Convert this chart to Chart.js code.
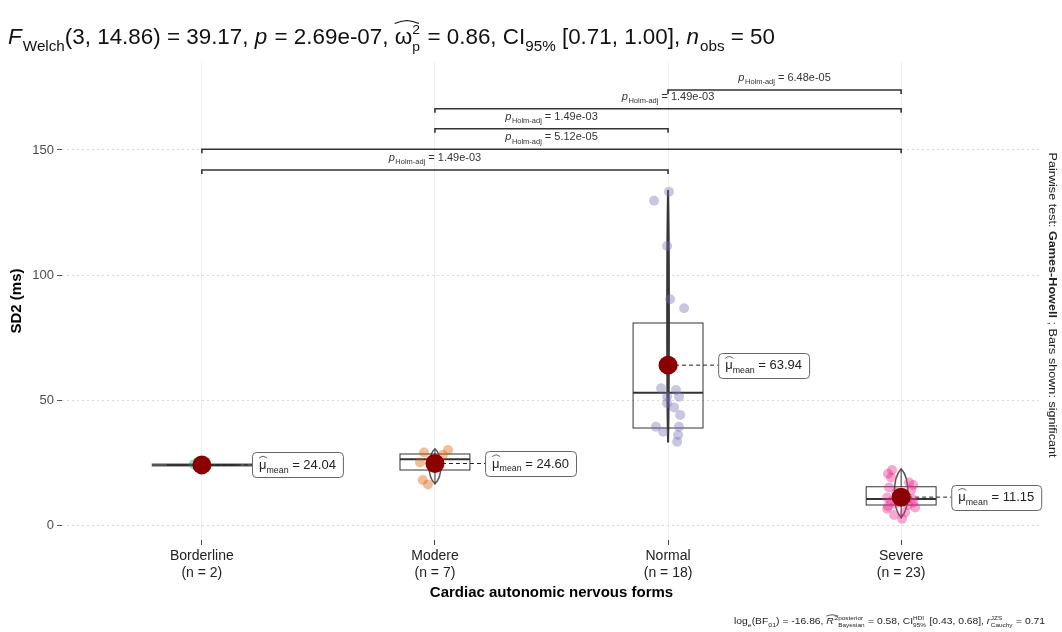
<!DOCTYPE html>
<html><head><meta charset="utf-8">
<script src="https://cdn.jsdelivr.net/npm/chart.js@4.4.1/dist/chart.umd.min.js"></script>
<style>html,body{margin:0;padding:0;background:#fff;}#wrap{width:1062px;height:632px;}</style>
</head><body><div id="wrap"><canvas id="c" width="1062" height="632"></canvas></div>
<script>
// ---------- data ----------
const categories = ['Borderline', 'Modere', 'Normal', 'Severe'];
const groupSizes = [2, 7, 18, 23];
const yTicks = [0, 50, 100, 150];

const borderlineSD2 = [24.30, 23.78];
const modereSD2 = [30.0, 29.0, 28.0, 26.0, 25.0, 18.0, 16.2];
const normalSD2 = [133.3, 129.7, 111.6, 90.3, 86.7, 63.1, 54.7, 54.0, 51.3, 51.3, 48.7, 47.0, 44.0, 39.3, 37.3, 39.3, 36.0, 33.3];
const severeSD2 = [22, 20.5, 19, 17, 16, 15, 14, 13, 10.75, 11, 10.5, 10.2, 10, 9.5, 9, 8.5, 8, 7.5, 7, 6.5, 5, 4, 2.5];

// horizontal jitter of each point (category units)
const borderlineJitter = [-0.035, 0.02];
const modereJitter = [0.056, -0.047, 0.034, -0.017, -0.064, -0.052, -0.03];
const normalJitter = [0.004, -0.06, -0.004, 0.009, 0.069, 0.021, -0.03, 0.034, 0.047, -0.004, -0.004, 0.026, 0.052, -0.052, -0.021, 0.047, 0.043, 0.039];
const severeJitter = [-0.039, -0.056, -0.043, 0.034, 0.052, -0.052, 0.043, -0.021, 0.026, -0.06, 0.047, -0.013, 0.013, -0.043, 0.052, -0.026, 0.03, -0.056, 0.06, -0.06, 0.017, -0.03, 0.004];

const groupMeans = [24.04, 24.60, 63.94, 11.15];
const boxQ1 = [24.04, 22.0, 38.8, 8.0];
const boxMedian = [24.04, 26.3, 52.9, 10.4];
const boxQ3 = [24.04, 28.4, 80.8, 15.3];
const whiskerLow = [23.78, 16.2, 33.3, 2.5];
const whiskerHigh = [24.30, 30.0, 133.3, 22.0];
const violinLow = [24.04, 16.5, 33.0, 3.0];
const violinHigh = [24.04, 30.5, 134.0, 22.5];

// pairwise comparisons (Games-Howell, Holm-adjusted)
const pairFrom = [3, 2, 2, 1, 1];
const pairTo = [4, 4, 3, 4, 3];
const pairLevel = [174, 166.5, 158.5, 150.3, 142];
const pairP = ['6.48e-05', '1.49e-03', '1.49e-03', '5.12e-05', '1.49e-03'];

const groupValues = [borderlineSD2, modereSD2, normalSD2, severeSD2];
const groupJitter = [borderlineJitter, modereJitter, normalJitter, severeJitter];
const groupColors = ['rgba(27,158,119,0.4)', 'rgba(217,95,2,0.4)', 'rgba(117,112,179,0.4)', 'rgba(231,41,138,0.4)'];

// ---------- rich text helper ----------
const FAM = '"Liberation Sans", Arial, Helvetica, sans-serif';
function segFont(size, s) { return (s.it ? 'italic ' : '') + (s.b ? 'bold ' : '') + size + 'px ' + FAM; }
function layoutRich(ctx, segs, size) {
  let x = 0; const items = [];
  for (const s of segs) {
    if (s.stack) {
      const fs = size * 0.62;
      ctx.font = segFont(fs, {});
      const w = Math.max(ctx.measureText(s.stack[0]).width, ctx.measureText(s.stack[1]).width);
      items.push({ x, kind: 'stack', sup: s.stack[0], sub: s.stack[1], fs, w });
      x += w + size * 0.06;
    } else {
      const fs = (s.sub || s.sup) ? size * 0.68 : size;
      ctx.font = segFont(fs, s);
      const w = ctx.measureText(s.t).width;
      items.push({ x, kind: 't', s, fs, w });
      x += w + (s.it ? size * 0.05 : 0);
    }
  }
  return { items, width: x };
}
function drawRich(ctx, segs, x, y, size, color, targetWidth, align) {
  ctx.save();
  const L = layoutRich(ctx, segs, size);
  const sx = targetWidth ? targetWidth / L.width : 1;
  const w = L.width * sx;
  const x0 = align === 'center' ? x - w / 2 : x;
  ctx.translate(x0, y); ctx.scale(sx, 1);
  ctx.fillStyle = color; ctx.strokeStyle = color;
  ctx.textBaseline = 'alphabetic'; ctx.textAlign = 'left';
  for (const it of L.items) {
    if (it.kind === 'stack') {
      ctx.font = segFont(it.fs, {});
      ctx.fillText(it.sup, it.x, -size * 0.45);
      ctx.fillText(it.sub, it.x, size * 0.3);
    } else {
      const s = it.s; ctx.font = segFont(it.fs, s);
      const dy = s.sub ? size * 0.3 : (s.sup ? -size * 0.45 : 0);
      ctx.fillText(s.t, it.x, dy);
      if (s.hat) {
        const hw = it.w + (s.hatExtra || 0) * size;
        const top = -size * (s.hatH || 0.8);
        ctx.lineWidth = Math.max(0.7, size * 0.05);
        ctx.beginPath();
        ctx.moveTo(it.x, top + size * 0.12);
        ctx.quadraticCurveTo(it.x + hw * 0.25, top, it.x + hw / 2, top - size * 0.02);
        ctx.quadraticCurveTo(it.x + hw * 0.75, top, it.x + hw, top + size * 0.12);
        ctx.stroke();
      }
    }
  }
  ctx.restore();
  return w;
}

// ---------- plugins ----------
const boxPlugin = {
  id: 'boxes',
  beforeDatasetsDraw(chart) {
    const { ctx, chartArea: a, scales: { x, y } } = chart;
    ctx.save();
    ctx.beginPath(); ctx.rect(a.left, a.top, a.width, a.height); ctx.clip();
    const violinHalf = [0.215, 0.026, 0.004, 0.03];
    const boxHalf = 0.15;
    for (let i = 0; i < categories.length; i++) {
      const c = i + 1;
      const cx = x.getPixelForValue(c);
      // violin
      const vt = y.getPixelForValue(violinHigh[i]), vb = y.getPixelForValue(violinLow[i]);
      const vw = x.getPixelForValue(c + violinHalf[i]) - cx;
      ctx.beginPath();
      if (vb - vt > 1) {
        const vm = (vt + vb) / 2;
        ctx.moveTo(cx, vt);
        ctx.bezierCurveTo(cx + vw * 1.3, vt + (vb - vt) * 0.2, cx + vw * 1.3, vb - (vb - vt) * 0.2, cx, vb);
        ctx.bezierCurveTo(cx - vw * 1.3, vb - (vb - vt) * 0.2, cx - vw * 1.3, vt + (vb - vt) * 0.2, cx, vt);
        ctx.closePath();
      } else {
        ctx.moveTo(cx - vw, vt); ctx.lineTo(cx + vw, vt);
      }
      ctx.fillStyle = 'rgba(255,255,255,0.5)'; ctx.fill();
      ctx.strokeStyle = i === 2 ? '#3a3a3a' : '#555';
      ctx.lineWidth = i === 0 ? 3 : (i === 2 ? 2 : 1.5);
      ctx.stroke();
      // whiskers
      ctx.strokeStyle = '#333'; ctx.lineWidth = 1;
      ctx.beginPath();
      ctx.moveTo(cx, y.getPixelForValue(whiskerHigh[i])); ctx.lineTo(cx, y.getPixelForValue(boxQ3[i]));
      ctx.moveTo(cx, y.getPixelForValue(boxQ1[i])); ctx.lineTo(cx, y.getPixelForValue(whiskerLow[i]));
      ctx.stroke();
      // box
      const bl = x.getPixelForValue(c - boxHalf), br = x.getPixelForValue(c + boxHalf);
      const bt = y.getPixelForValue(boxQ3[i]), bb = y.getPixelForValue(boxQ1[i]);
      ctx.strokeStyle = '#333'; ctx.lineWidth = 1;
      ctx.strokeRect(bl, bt, br - bl, bb - bt);
      ctx.lineWidth = 2;
      const my = y.getPixelForValue(boxMedian[i]);
      ctx.beginPath(); ctx.moveTo(bl, my); ctx.lineTo(br, my); ctx.stroke();
      // dashed connector to mean label
      const mx = x.getPixelForValue(c), myy = y.getPixelForValue(groupMeans[i]);
      const lx = x.getPixelForValue(c + 0.215);
      ctx.setLineDash([4, 3]); ctx.lineWidth = 1; ctx.strokeStyle = '#222';
      ctx.beginPath(); ctx.moveTo(mx, myy); ctx.lineTo(lx, myy); ctx.stroke();
      ctx.setLineDash([]);
    }
    ctx.restore();
  },
  afterDatasetsDraw(chart) {
    const { ctx, scales: { x, y } } = chart;
    ctx.save();
    // mean labels
    for (let i = 0; i < categories.length; i++) {
      const c = i + 1;
      const lx = x.getPixelForValue(c + 0.215);
      const my = y.getPixelForValue(groupMeans[i]);
      const segs = [{ t: 'μ', hat: true, hatH: 0.95, hatExtra: 0.05 }, { t: 'mean', sub: true }, { t: ' = ' + groupMeans[i].toFixed(2) }];
      const L = layoutRich(ctx, segs, 13);
      const w = L.width + 14, h = 25;
      ctx.beginPath();
      ctx.roundRect(lx + 0.5, Math.round(my - h / 2) + 0.5, w, h, 4);
      ctx.fillStyle = '#fff'; ctx.fill();
      ctx.strokeStyle = '#666'; ctx.lineWidth = 1; ctx.stroke();
      drawRich(ctx, segs, lx + 7, my + 4, 13, '#222');
    }
    // significance brackets
    for (let k = 0; k < pairFrom.length; k++) {
      const x1 = x.getPixelForValue(pairFrom[k]), x2 = x.getPixelForValue(pairTo[k]);
      const yy = y.getPixelForValue(pairLevel[k]);
      ctx.strokeStyle = '#333'; ctx.lineWidth = 1.6;
      ctx.beginPath();
      ctx.moveTo(x1, yy + 4); ctx.lineTo(x1, yy); ctx.lineTo(x2, yy); ctx.lineTo(x2, yy + 4);
      ctx.stroke();
      drawRich(ctx, [{ t: 'p', it: true }, { t: 'Holm-adj', sub: true }, { t: ' = ' + pairP[k] }], (x1 + x2) / 2, yy - 9, 11, '#333', null, 'center');
    }
    ctx.restore();
  },
  afterDraw(chart) {
    const { ctx } = chart;
    // title
    drawRich(ctx, [
      { t: 'F', it: true }, { t: 'Welch', sub: true }, { t: '(3, 14.86) = 39.17, ' },
      { t: 'p', it: true }, { t: ' = 2.69e-07, ' },
      { t: 'ω', hat: true, hatH: 1.05, hatExtra: 0.3 }, { stack: ['2', 'p'] }, { t: ' = 0.86, CI' }, { t: '95%', sub: true },
      { t: ' [0.71, 1.00], ' }, { t: 'n', it: true }, { t: 'obs', sub: true }, { t: ' = 50' }
    ], 8, 44, 22, '#111', 767);
    // caption
    drawRich(ctx, [
      { t: 'log' }, { t: 'e', sub: true }, { t: '(BF' }, { t: '01', sub: true }, { t: ') = -16.86, ' },
      { t: 'R', it: true, hat: true, hatH: 1.0, hatExtra: 0.4 }, { t: '2', sup: true }, { stack: ['posterior', 'Bayesian'] },
      { t: ' = 0.58, CI' }, { stack: ['HDI', '95%'] }, { t: ' [0.43, 0.68], ' },
      { t: 'r', it: true }, { stack: ['JZS', 'Cauchy'] }, { t: ' = 0.71' }
    ], 734, 624, 9, '#222', 311);
    // right strip text
    ctx.save();
    ctx.translate(1049, 305);
    ctx.rotate(Math.PI / 2);
    drawRich(ctx, [{ t: 'Pairwise test: ' }, { t: 'Games-Howell', b: true }, { t: ' ; Bars shown: ' }, { t: 'significant' }], 0, 0, 11.5, '#222', 305, 'center');
    ctx.restore();
  }
};

// ---------- datasets ----------
const datasets = [{
  label: 'mean',
  data: groupMeans.map((m, i) => ({ x: i + 1, y: m })),
  pointRadius: 9.5, pointBackgroundColor: '#8B0000', pointBorderWidth: 0, order: 0
}];
groupValues.forEach((vals, i) => {
  datasets.push({
    label: categories[i],
    data: vals.map((v, j) => ({ x: i + 1 + groupJitter[i][j], y: v })),
    pointRadius: 5, pointBackgroundColor: groupColors[i], pointBorderWidth: 0, order: 1
  });
});

new Chart(document.getElementById('c'), {
  type: 'scatter',
  data: { datasets },
  plugins: [boxPlugin],
  options: {
    responsive: false, animation: false, devicePixelRatio: 1, events: [],
    layout: { padding: { top: 62, right: 21, left: 0, bottom: 0 } },
    plugins: { legend: { display: false }, tooltip: { enabled: false } },
    scales: {
      x: {
        type: 'linear', min: 0.4, max: 4.6,
        afterBuildTicks: s => { s.ticks = categories.map((c, i) => ({ value: i + 1 })); },
        afterFit: s => { s.height = 92; },
        ticks: {
          autoSkip: false, maxRotation: 0, padding: 3, color: '#222',
          font: { family: FAM, size: 14 },
          callback: v => [categories[v - 1], '(n = ' + groupSizes[v - 1] + ')']
        },
        grid: { color: '#efefef', lineWidth: 1, tickLength: 5, tickColor: '#444', tickWidth: 1 },
        border: { display: false },
        title: { display: true, text: 'Cardiac autonomic nervous forms', color: '#000',
          font: { family: FAM, size: 15, weight: 'bold' }, padding: { top: 0, bottom: 30 } }
      },
      y: {
        type: 'linear', min: -6, max: 185.2,
        afterBuildTicks: s => { s.ticks = yTicks.map(v => ({ value: v })); },
        afterFit: s => { s.width = 62; },
        ticks: { padding: 3, color: '#4d4d4d', font: { family: FAM, size: 13 } },
        grid: { color: '#d9d9d9', lineWidth: 1, tickLength: 5, tickColor: '#555', tickBorderDash: [] },
        border: { display: false, dash: [2, 3] },
        title: { display: true, text: 'SD2 (ms)', color: '#000',
          font: { family: FAM, size: 15, weight: 'bold' }, padding: { top: 8, bottom: 0 } }
      }
    }
  }
});
</script></body></html>
